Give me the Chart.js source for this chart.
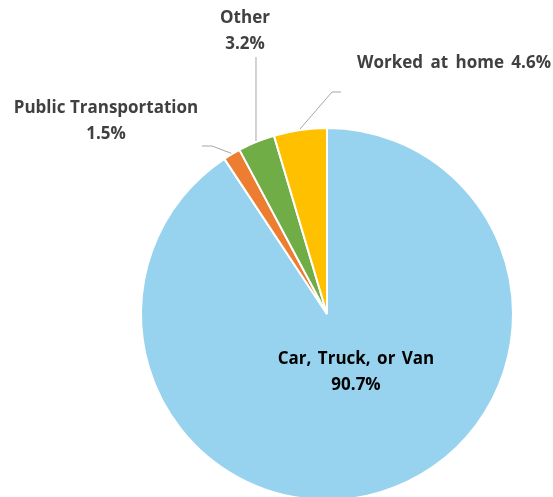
<!DOCTYPE html>
<html lang="en">
<head>
    <meta charset="UTF-8">
    <title>Means of Transportation to Work</title>
    <script src="https://cdn.jsdelivr.net/npm/chart.js@4"></script>
    <style>
        html, body { margin: 0; padding: 0; background: #fff; overflow: hidden; }
        #wrap { width: 553px; height: 504px; }
    </style>
</head>
<body>
    <div id="wrap"><canvas id="commuteChart" width="553" height="504"></canvas></div>

    <script>
        // data
        const categories = ['Car, Truck, or Van', 'Public Transportation', 'Other', 'Worked at home'];
        const shares = [90.7, 1.5, 3.2, 4.6];
        const sliceColors = ['#97D3EE', '#ED7D31', '#70AD47', '#FFC000'];

        // label placement (text anchor + leader bend), px
        const labelLayout = [
            { inside: true, x: 356, y: 359, color: '#000000', lines: 2, gap: '2px' },
            { x: 106, y: 108, color: '#404040', lines: 2, bend: [212, 146], end: [202, 146] },
            { x: 245, y: 18, color: '#404040', lines: 2, vertical: 57 },
            { x: 357, y: 63, color: '#404040', lines: 1, align: 'left', gap: '3px', bend: [332, 92], end: [341, 92] }
        ];

        const labelPlugin = {
            id: 'sliceLabels',
            afterDraw(chart) {
                const ctx = chart.ctx;
                const arcs = chart.getDatasetMeta(0).data;
                ctx.save();
                ctx.font = 'bold 17px "Open Sans", sans-serif';
                ctx.textBaseline = 'middle';
                arcs.forEach((arc, i) => {
                    const lay = labelLayout[i];
                    const pct = shares[i].toFixed(1) + '%';
                    // leader line from the slice edge
                    if (!lay.inside) {
                        const mid = (arc.startAngle + arc.endAngle) / 2;
                        const r = arc.outerRadius + 1;
                        const sx = arc.x + Math.cos(mid) * r;
                        const sy = arc.y + Math.sin(mid) * r;
                        ctx.strokeStyle = '#A6A6A6';
                        ctx.lineWidth = 1;
                        ctx.beginPath();
                        ctx.moveTo(sx, sy);
                        if (lay.vertical) {
                            ctx.lineTo(sx, lay.vertical);
                        } else {
                            ctx.lineTo(lay.bend[0], lay.bend[1]);
                            ctx.lineTo(lay.end[0], lay.end[1]);
                        }
                        ctx.stroke();
                    }
                    ctx.fillStyle = lay.color;
                    ctx.textAlign = lay.align || 'center';
                    ctx.wordSpacing = lay.gap || '0px';
                    if (lay.lines === 2) {
                        ctx.fillText(categories[i], lay.x, lay.y);
                        ctx.fillText(pct, lay.x, lay.y + 26);
                    } else {
                        ctx.fillText(categories[i] + ' ' + pct, lay.x, lay.y);
                    }
                });
                ctx.restore();
            }
        };

        new Chart(document.getElementById('commuteChart'), {
            type: 'pie',
            data: {
                labels: categories,
                datasets: [{
                    data: shares,
                    backgroundColor: sliceColors,
                    borderColor: '#FFFFFF',
                    borderWidth: 2
                }]
            },
            options: {
                responsive: false,
                animation: false,
                layout: { padding: { top: 127, bottom: 3, left: 140, right: 39 } },
                plugins: {
                    legend: { display: false },
                    tooltip: { enabled: false }
                }
            },
            plugins: [labelPlugin]
        });
    </script>
</body>
</html>
